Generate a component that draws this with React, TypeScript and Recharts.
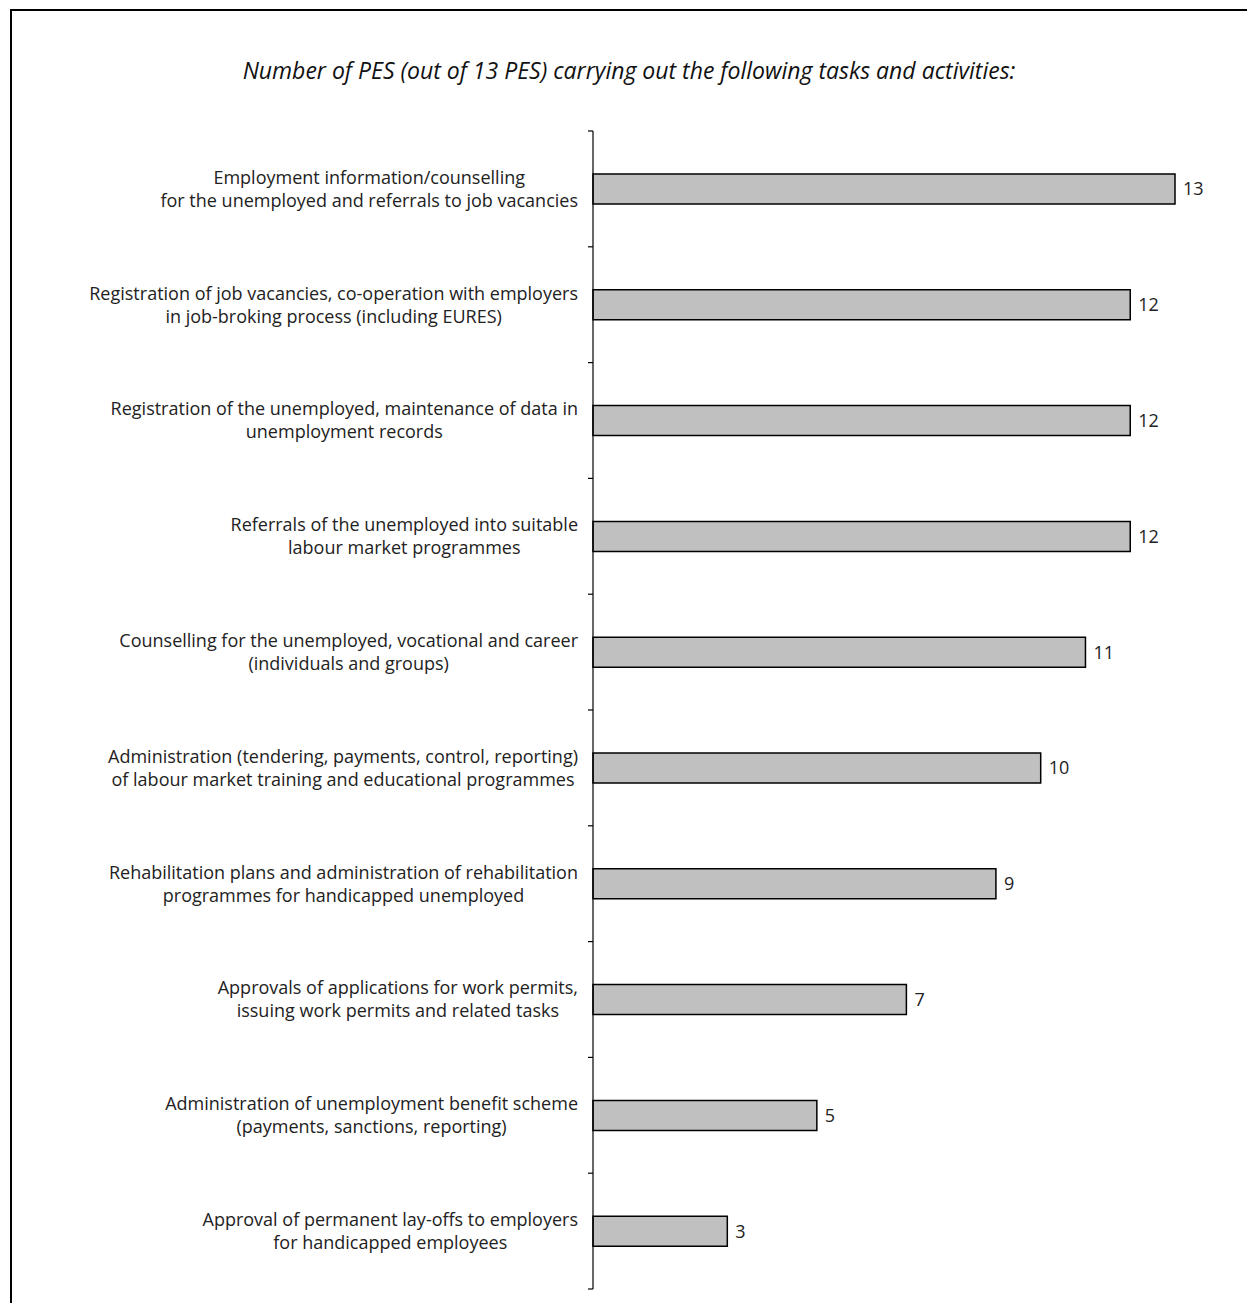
import React from 'react';
import { BarChart, Bar, XAxis, YAxis, LabelList } from 'recharts';

const taskLines: string[][] = [
  ['Employment information/counselling', 'for the unemployed and referrals to job vacancies'],
  ['Registration of job vacancies, co-operation with employers', 'in job-broking process (including EURES)'],
  ['Registration of the unemployed, maintenance of data in', 'unemployment records'],
  ['Referrals of the unemployed into suitable', 'labour market programmes'],
  ['Counselling for the unemployed, vocational and career', '(individuals and groups)'],
  ['Administration (tendering, payments, control, reporting)', 'of labour market training and educational programmes'],
  ['Rehabilitation plans and administration of rehabilitation', 'programmes for handicapped unemployed'],
  ['Approvals of applications for work permits,', 'issuing work permits and related tasks'],
  ['Administration of unemployment benefit scheme', '(payments, sanctions, reporting)'],
  ['Approval of permanent lay-offs to employers', 'for handicapped employees'],
];

const pesCounts: number[] = [13, 12, 12, 12, 11, 10, 9, 7, 5, 3];

const TITLE = 'Number of PES (out of 13 PES) carrying out the following tasks and activities:';

const data = taskLines.map((lines, i) => ({ task: lines.join('\n'), count: pesCounts[i] }));

const W = 1247;
const H = 1303;
const M = { top: 131, right: 72, bottom: 14, left: 8 };
const AXIS_W = 585;
const FONT = '"Open Sans", "DejaVu Sans", sans-serif';
const LABEL_SIZE = 18;

let ctx: CanvasRenderingContext2D | null = null;
function textWidth(s: string) {
  if (!ctx) ctx = document.createElement('canvas').getContext('2d');
  if (!ctx) return s.length * 8.5;
  ctx.font = `${LABEL_SIZE}px ${FONT}`;
  return ctx.measureText(s).width;
}

const step = (H - M.top - M.bottom) / data.length;

const TaskTick = ({ x, y, payload, index }: any) => {
  const lines: string[] = String(payload.value).split('\n');
  const blockW = Math.max(...lines.map(textWidth));
  const right = x - 15;
  const cx = right - blockW / 2;
  const lh = 23;
  const y0 = y - ((lines.length - 1) * lh) / 2;
  return (
    <g>
      <line x1={x - 5} x2={x} y1={y - step / 2} y2={y - step / 2} stroke="#000" strokeWidth={1.2} />
      {index === data.length - 1 && (
        <line x1={x - 5} x2={x} y1={y + step / 2} y2={y + step / 2} stroke="#000" strokeWidth={1.2} />
      )}
      <text textAnchor="middle" fontFamily={FONT} fontSize={LABEL_SIZE} fill="#222">
        {lines.map((l, i) => (
          <tspan key={i} x={cx} y={y0 + i * lh} dy="0.35em">{l}</tspan>
        ))}
      </text>
    </g>
  );
};

export default function App() {
  return (
    <div style={{ position: 'absolute', left: 0, top: 0, width: W, height: H, background: '#fff' }}>
      <div
        style={{
          position: 'absolute', left: 10, top: 9, width: W - 10, height: H - 9,
          boxSizing: 'border-box', borderTop: '2px solid #000', borderLeft: '2px solid #000',
        }}
      />
      <div
        style={{
          position: 'absolute', left: 0, top: 54, width: 1258, textAlign: 'center',
          fontFamily: FONT, fontStyle: 'italic', fontSize: 23, color: '#111',
        }}
      >
        {TITLE}
      </div>
      <div style={{ position: 'absolute', left: 0, top: 0 }}>
        <BarChart width={W} height={H} data={data} layout="vertical" margin={M}>
          <XAxis type="number" domain={[0, 13]} hide />
          <YAxis
            type="category"
            dataKey="task"
            width={AXIS_W}
            tickLine={false}
            tickSize={0}
            tickMargin={0}
            axisLine={{ stroke: '#000', strokeWidth: 1.2 }}
            tick={<TaskTick />}
            interval={0}
          />
          <Bar dataKey="count" barSize={30} fill="#C0C0C0" stroke="#000" strokeWidth={1.5} isAnimationActive={false}>
            <LabelList dataKey="count" position="right" offset={8} fill="#222" fontSize={18} fontFamily={FONT} />
          </Bar>
        </BarChart>
      </div>
    </div>
  );
}
